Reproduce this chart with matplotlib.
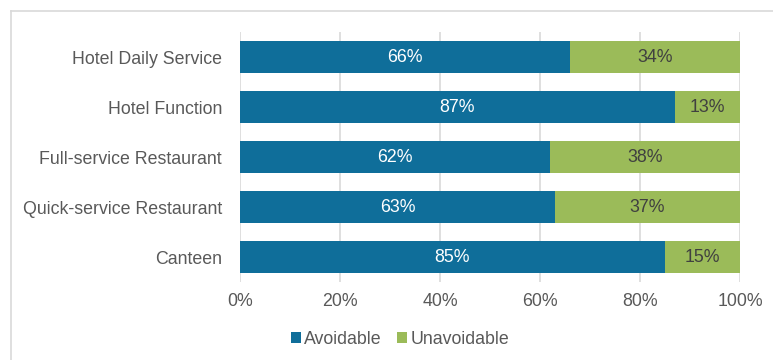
import matplotlib.pyplot as plt
from matplotlib.lines import Line2D

plt.rcParams['font.family'] = ['Liberation Sans', 'DejaVu Sans']

# Data
categories = ['Hotel Daily Service', 'Hotel Function', 'Full-service Restaurant',
              'Quick-service Restaurant', 'Canteen']
avoidable = [66, 87, 62, 63, 85]
unavoidable = [34, 13, 38, 37, 15]
series_names = ['Avoidable', 'Unavoidable']
xtick_values = [0, 20, 40, 60, 80, 100]

blue = '#0F6E9A'
green = '#9BBB59'
text_gray = '#595959'
fs = 12.8

fig = plt.figure(figsize=(7.73, 3.6), dpi=100)
ax = fig.add_axes([240 / 773, 1 - 282 / 360, 500 / 773, 250 / 360])

y = list(range(len(categories)))
ax.barh(y, avoidable, height=0.65, color=blue, label=series_names[0], zorder=2)
ax.barh(y, unavoidable, left=avoidable, height=0.65, color=green,
        label=series_names[1], zorder=2)

for i, (a, u) in enumerate(zip(avoidable, unavoidable)):
    ax.text(a / 2, i, f'{a}%', ha='center', va='center', color='white', fontsize=fs)
    ax.text(a + u / 2, i, f'{u}%', ha='center', va='center', color='#404040', fontsize=fs)

ax.set_xlim(0, 100)
ax.set_ylim(len(categories) - 0.5, -0.5)
ax.set_yticks(y)
ax.set_yticklabels(categories, fontsize=fs, color=text_gray)
ax.set_xticks(xtick_values)
ax.set_xticklabels([f'{v}%' for v in xtick_values], fontsize=fs, color=text_gray)
ax.tick_params(axis='y', length=0, pad=13)
ax.tick_params(axis='x', length=0, pad=8)
ax.grid(axis='x', color='#D9D9D9', linewidth=1.2, zorder=0)
for s in ax.spines.values():
    s.set_visible(False)

fig.legend(*ax.get_legend_handles_labels(), loc='center',
           bbox_to_anchor=(400 / 773, 1 - 339 / 360), ncol=2, frameon=False,
           fontsize=fs, handlelength=0.55, handleheight=0.55,
           handletextpad=0.2, columnspacing=0.85, labelcolor=text_gray,
           borderpad=0, borderaxespad=0)

# chart border (top and left edges visible)
fig.add_artist(Line2D([11 / 773, 1], [1 - 11 / 360, 1 - 11 / 360],
                      transform=fig.transFigure, color='#D9D9D9', linewidth=1.2))
fig.add_artist(Line2D([11 / 773, 11 / 773], [0, 1 - 11 / 360],
                      transform=fig.transFigure, color='#D9D9D9', linewidth=1.2))

plt.savefig('out.png', dpi=100)
plt.close()
